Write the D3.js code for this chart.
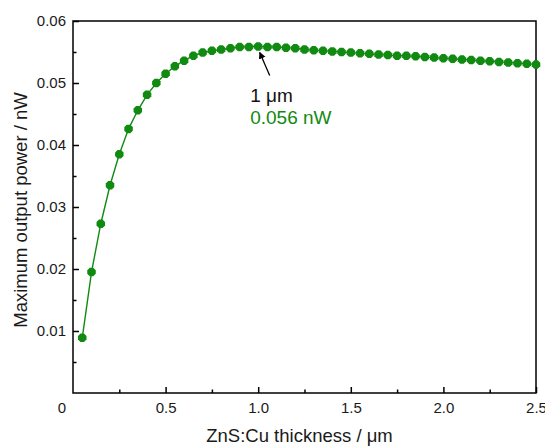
<!DOCTYPE html>
<html>
<head>
<meta charset="utf-8">
<script src="https://cdn.jsdelivr.net/npm/d3@7/dist/d3.min.js"></script>
<style>
  html, body { margin: 0; padding: 0; background: #fff; }
  svg { display: block; font-family: "Liberation Sans", Arial, sans-serif; }
</style>
</head>
<body>
<div id="chart"></div>
<script>
// thickness (µm) and maximum output power (nW)
const thickness = [
  0.05, 0.10, 0.15, 0.20, 0.25, 0.30, 0.35, 0.40, 0.45, 0.50,
  0.55, 0.60, 0.65, 0.70, 0.75, 0.80, 0.85, 0.90, 0.95, 1.00,
  1.05, 1.10, 1.15, 1.20, 1.25, 1.30, 1.35, 1.40, 1.45, 1.50,
  1.55, 1.60, 1.65, 1.70, 1.75, 1.80, 1.85, 1.90, 1.95, 2.00,
  2.05, 2.10, 2.15, 2.20, 2.25, 2.30, 2.35, 2.40, 2.45, 2.50
];
const power = [
  0.0089, 0.0195, 0.0273, 0.0335, 0.0385, 0.0426, 0.0456, 0.0481, 0.0500, 0.0515,
  0.0527, 0.0536, 0.0544, 0.0549, 0.0552, 0.0554, 0.0556, 0.0558, 0.0558, 0.0559,
  0.0558, 0.0558, 0.0557, 0.0556, 0.0554, 0.0553, 0.0552, 0.0551, 0.0550, 0.0549,
  0.0548, 0.0547, 0.0546, 0.0545, 0.0544, 0.0544, 0.0543, 0.0542, 0.0541, 0.0540,
  0.0539, 0.0538, 0.0537, 0.0536, 0.0535, 0.0534, 0.0533, 0.0532, 0.0531, 0.0530
];
const xTicks = [0.5, 1.0, 1.5, 2.0, 2.5];
const xMinor = [0.25, 0.75, 1.25, 1.75, 2.25];
const yTicks = [0.01, 0.02, 0.03, 0.04, 0.05, 0.06];
const yMinor = [0.005, 0.015, 0.025, 0.035, 0.045, 0.055];
const peak = { x: 1.0, y: 0.0559, label1: "1 μm", label2: "0.056 nW" };

const W = 545, H = 446;
const margin = { top: 21, right: 9, bottom: 53, left: 73 };
const innerW = W - margin.left - margin.right;
const innerH = H - margin.top - margin.bottom;
const green = "#118a11";

const svg = d3.select("#chart").append("svg")
  .attr("width", W).attr("height", H);
const g = svg.append("g")
  .attr("transform", `translate(${margin.left},${margin.top})`);

const x = d3.scaleLinear().domain([0, 2.5]).range([0, innerW]);
const y = d3.scaleLinear().domain([0, 0.06]).range([innerH, 0]);

// frame
g.append("rect")
  .attr("width", innerW).attr("height", innerH)
  .attr("fill", "none").attr("stroke", "#000").attr("stroke-width", 1.5);

g.append("g")
  .attr("transform", `translate(0,${innerH})`)
  .call(d3.axisBottom(x).tickValues(xTicks).tickFormat(d3.format(".1f"))
    .tickSize(-6).tickPadding(9));
g.append("g")
  .attr("transform", `translate(0,${innerH})`)
  .call(d3.axisBottom(x).tickValues(xMinor).tickFormat("").tickSize(-3.5));

g.append("g")
  .call(d3.axisLeft(y).tickValues(yTicks).tickFormat(d3.format(".2f"))
    .tickSize(-6).tickPadding(7));
g.append("g")
  .call(d3.axisLeft(y).tickValues(yMinor).tickFormat("").tickSize(-3.5));

g.selectAll(".domain").remove();
g.selectAll(".tick line").attr("stroke", "#000").attr("stroke-width", 1.5);
g.selectAll(".tick text").attr("fill", "#1a1a1a").style("font-size", "15px")
  .style("font-family", "Liberation Sans, Arial, sans-serif");

// origin label
g.append("text")
  .attr("x", -11).attr("y", innerH + 9)
  .attr("dy", "0.71em")
  .attr("text-anchor", "middle")
  .attr("fill", "#1a1a1a").style("font-size", "15px")
  .text("0");

// axis titles
svg.append("text")
  .attr("x", margin.left + innerW / 2 - 5).attr("y", 442)
  .attr("text-anchor", "middle")
  .attr("fill", "#1a1a1a").style("font-size", "18.5px")
  .text("ZnS:Cu thickness / μm");
svg.append("text")
  .attr("transform", `translate(27,${margin.top + innerH / 2 + 3}) rotate(-90)`)
  .attr("text-anchor", "middle")
  .attr("fill", "#1a1a1a").style("font-size", "18.5px")
  .text("Maximum output power / nW");

// series
const data = thickness.map((t, i) => ({ t, p: power[i] }));
const line = d3.line().x(d => x(d.t)).y(d => y(d.p));
g.append("path")
  .attr("d", line(data))
  .attr("fill", "none").attr("stroke", green).attr("stroke-width", 1.4);

const octagon = d3.symbol().type({
  draw(ctx, size) {
    const r = Math.sqrt(size / 2.83);
    for (let i = 0; i < 8; i++) {
      const a = Math.PI / 8 + i * Math.PI / 4;
      if (i === 0) ctx.moveTo(r * Math.cos(a), r * Math.sin(a));
      else ctx.lineTo(r * Math.cos(a), r * Math.sin(a));
    }
    ctx.closePath();
  }
}).size(60);
g.selectAll(".pt").data(data).enter().append("path")
  .attr("class", "pt")
  .attr("transform", d => `translate(${x(d.t)},${y(d.p)})`)
  .attr("d", octagon)
  .attr("fill", green);

// annotation
svg.append("defs").append("marker")
  .attr("id", "arr").attr("viewBox", "0 0 10 10")
  .attr("refX", 9).attr("refY", 5)
  .attr("markerWidth", 7).attr("markerHeight", 8)
  .attr("markerUnits", "userSpaceOnUse")
  .attr("orient", "auto")
  .append("path").attr("d", "M0,0 L10,5 L0,10 Z").attr("fill", "#000");

const tipX = x(peak.x) + 1.5, tipY = y(peak.y) + 6;
g.append("line")
  .attr("x1", tipX + 10).attr("y1", tipY + 23)
  .attr("x2", tipX).attr("y2", tipY)
  .attr("stroke", "#000").attr("stroke-width", 1.3)
  .attr("marker-end", "url(#arr)");

g.append("text")
  .attr("x", x(peak.x) - 8).attr("y", y(peak.y) + 56)
  .attr("fill", "#111").style("font-size", "19px")
  .text(peak.label1);
g.append("text")
  .attr("x", x(peak.x) - 8).attr("y", y(peak.y) + 78)
  .attr("fill", green).style("font-size", "19px")
  .text(peak.label2);
</script>
</body>
</html>
